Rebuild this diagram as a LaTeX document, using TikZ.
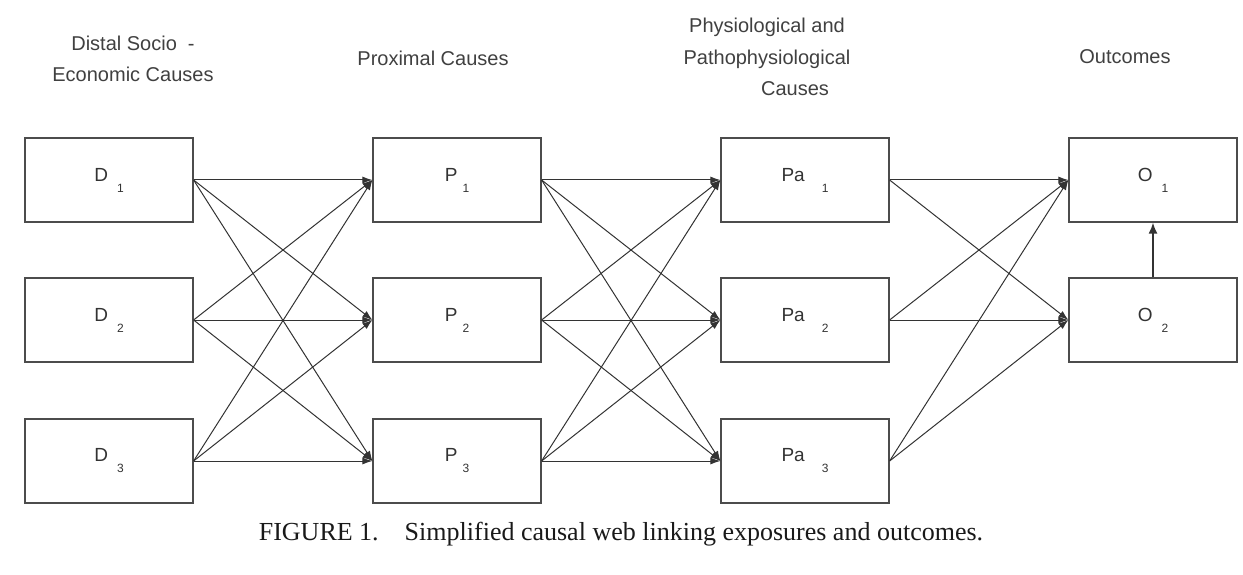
\documentclass[tikz,border=0pt]{standalone}
\usepackage{fontspec}
\setmainfont{Liberation Sans}
\newfontfamily\capfont{Liberation Serif}
\usetikzlibrary{arrows.meta}

% letter with a lowered, spaced index
\newcommand{\boxlab}[3]{#1\hspace{#3}\raisebox{-11pt}{\fontsize{12}{12}\selectfont #2}}

\begin{document}
\begin{tikzpicture}[x=1pt,y=-1pt,
    causebox/.style={draw=black!70, line width=1.2pt, minimum width=168pt, minimum height=84pt,
        inner sep=0pt, text=black!80, font=\fontsize{19}{19}\selectfont},
    heading/.style={text=black!75, font=\fontsize{20}{31.5}\selectfont, align=center},
    link/.style={draw=black!80, line width=1pt, -{Latex[length=10pt,width=7pt]}}]

    \useasboundingbox (0,0) rectangle (1243,575);

    % column headings
    \node[heading] (hdist) at (133,59) {Distal Socio\ \ -\\Economic Causes};
    \node[heading] (hprox) at (433,58) {Proximal Causes};
    \node[heading] (hphys) at (767,57) {Physiological and\\Pathophysiological\\\hspace*{56pt}Causes};
    \node[heading] (hout) at (1125,57) {Outcomes};

    % distal causes
    \node[causebox] (D1) at (109,180) {\boxlab{D}{1}{9pt}};
    \node[causebox] (D2) at (109,320) {\boxlab{D}{2}{9pt}};
    \node[causebox] (D3) at (109,461) {\boxlab{D}{3}{9pt}};

    % proximal causes
    \node[causebox] (P1) at (457,180) {\boxlab{P}{1}{5pt}};
    \node[causebox] (P2) at (457,320) {\boxlab{P}{2}{5pt}};
    \node[causebox] (P3) at (457,461) {\boxlab{P}{3}{5pt}};

    % physiological and pathophysiological causes
    \node[causebox] (Pa1) at (805,180) {\boxlab{Pa}{1}{17pt}};
    \node[causebox] (Pa2) at (805,320) {\boxlab{Pa}{2}{17pt}};
    \node[causebox] (Pa3) at (805,461) {\boxlab{Pa}{3}{17pt}};

    % outcomes
    \node[causebox] (O1) at (1153,180) {\boxlab{O}{1}{9pt}};
    \node[causebox] (O2) at (1153,320) {\boxlab{O}{2}{9pt}};

    %%%%%%%%%%%%%%%%%%%%%%%%%%%%%%%%%%%%%%%%%%%%%%%%%%%%%%%%%

    % distal -> proximal
    \draw[link] (D1.east) to (P1.west);
    \draw[link] (D1.east) to (P2.west);
    \draw[link] (D1.east) to (P3.west);
    \draw[link] (D2.east) to (P1.west);
    \draw[link] (D2.east) to (P2.west);
    \draw[link] (D2.east) to (P3.west);
    \draw[link] (D3.east) to (P1.west);
    \draw[link] (D3.east) to (P2.west);
    \draw[link] (D3.east) to (P3.west);

    % proximal -> physiological
    \draw[link] (P1.east) to (Pa1.west);
    \draw[link] (P1.east) to (Pa2.west);
    \draw[link] (P1.east) to (Pa3.west);
    \draw[link] (P2.east) to (Pa1.west);
    \draw[link] (P2.east) to (Pa2.west);
    \draw[link] (P2.east) to (Pa3.west);
    \draw[link] (P3.east) to (Pa1.west);
    \draw[link] (P3.east) to (Pa2.west);
    \draw[link] (P3.east) to (Pa3.west);

    % physiological -> outcomes
    \draw[link] (Pa1.east) to (O1.west);
    \draw[link] (Pa1.east) to (O2.west);
    \draw[link] (Pa2.east) to (O1.west);
    \draw[link] (Pa2.east) to (O2.west);
    \draw[link] (Pa3.east) to (O1.west);
    \draw[link] (Pa3.east) to (O2.west);

    % outcome to outcome
    \draw[link, line width=1.8pt, -{Latex[length=11pt,width=9pt]}] (O2.north) to (O1.south);

    %%%%%%%%%%%%%%%%%%%%%%%%%%%%%%%%%%%%%%%%%%%%%%%%%%%%%%%%%

    % caption
    \node[text=black!90, font=\capfont\fontsize{26}{26}\selectfont] (caption) at (621,534)
        {FIGURE 1.\quad Simplified causal web linking exposures and outcomes.};

\end{tikzpicture}
\end{document}
